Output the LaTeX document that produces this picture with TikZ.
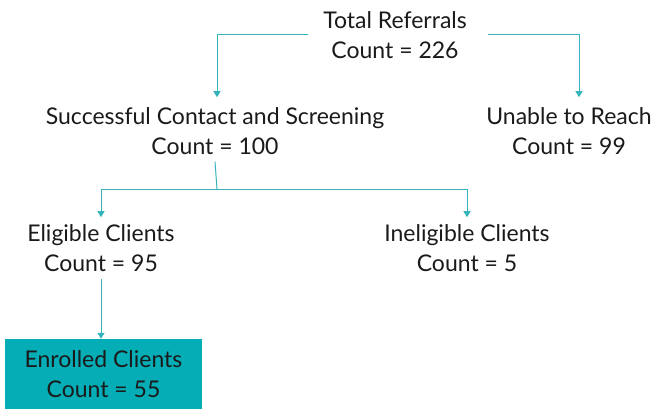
\documentclass[tikz,border=0pt]{standalone}
\usepackage{fontspec}
\setmainfont{Lato}
\usetikzlibrary{arrows.meta,positioning}
\definecolor{flowteal}{HTML}{35B4BE}
\definecolor{flowbox}{HTML}{05ADB7}
\definecolor{flowink}{HTML}{1A1A1A}
\tikzset{
  lbl/.style={align=center, text=flowink, inner xsep=8pt, inner ysep=7pt},
  done/.style={lbl, fill=flowbox, minimum width=197pt, minimum height=70pt},
  arr/.style={-{Triangle[length=6pt,width=7pt]}, line width=1pt, color=flowteal},
  ln/.style={line width=1pt, color=flowteal},
}
\begin{document}
\begin{tikzpicture}[font=\fontsize{23}{30}\selectfont, x=1pt, y=-1pt]
  \useasboundingbox (0,0) rectangle (663,409);
  \node[lbl] (total) at (395,35) {Total Referrals\\Count = 226};
  \node[lbl] (contact) at (215,131) {Successful Contact and Screening\\Count = 100};
  \node[lbl] (unable) at (569,131) {Unable to Reach\\Count = 99};
  \node[lbl] (eligible) at (101,248) {Eligible Clients\\Count = 95};
  \node[lbl] (inelig) at (467,248) {Ineligible Clients\\Count = 5};
  \node[done] (enrolled) at (103.5,374) {Enrolled Clients\\Count = 55};
  \coordinate (split) at (217,189);
  \draw[arr] ([xshift=-7pt]total.west) -| ([xshift=2pt,yshift=3pt]contact.north);
  \draw[arr] ([xshift=13pt]total.east) -| ([xshift=10pt,yshift=3pt]unable.north);
  \draw[ln] (contact.south) -- (split);
  \draw[arr] (split) -| (eligible.north);
  \draw[arr] (split) -| (inelig.north);
  \draw[arr] (eligible.south) -- (eligible.south |- enrolled.north);
\end{tikzpicture}
\end{document}
